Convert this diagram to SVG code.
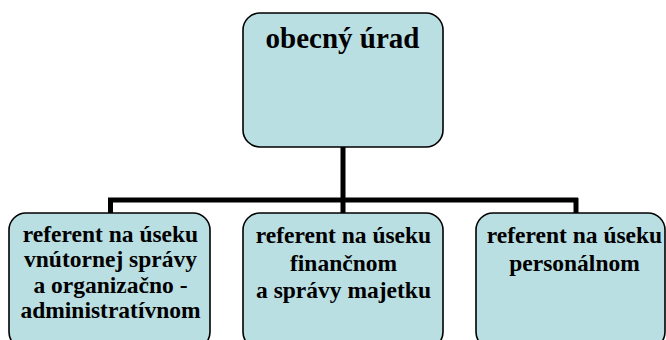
<svg xmlns="http://www.w3.org/2000/svg" width="666" height="340" viewBox="0 0 666 340">
<style>
.box{fill:#badfe3;stroke:#000;stroke-width:1.6}
text{font-family:'Liberation Serif','DejaVu Serif',serif;font-weight:bold;fill:#000;text-anchor:middle}
.s{font-size:23.5px}
.big{font-size:29px}
.c{stroke:#000;stroke-width:5;fill:none}
</style>
<rect width="666" height="340" fill="#fff"/>
<g id="connectors">
<path class="c" d="M343 147 V213"/>
<path class="c" d="M108 200 H578"/>
<path class="c" d="M110.5 198 V213"/>
<path class="c" d="M576 198 V213"/>
</g>
<g id="obecny-urad">
<rect class="box" x="243" y="13" width="200" height="134" rx="17"/>
<text class="big" x="342.5" y="48" font-family="Liberation Serif">obecný úrad</text>
</g>
<g id="referent-vnutornej">
<rect class="box" x="9" y="213" width="201" height="136" rx="17"/>
<text class="s" x="110.5" y="241.7">referent na úseku</text>
<text class="s" x="110.5" y="267.2">vnútornej správy</text>
<text class="s" x="110.5" y="292.7">a organizačno -</text>
<text class="s" x="110.5" y="318">administratívnom</text>
</g>
<g id="referent-financnom">
<rect class="box" x="243" y="213" width="200" height="136" rx="17"/>
<text class="s" x="343.5" y="243.3">referent na úseku</text>
<text class="s" x="343.5" y="270.8">finančnom</text>
<text class="s" x="343.5" y="298.3">a správy majetku</text>
</g>
<g id="referent-personalnom">
<rect class="box" x="476" y="213" width="189" height="136" rx="17"/>
<text class="s" x="574.5" y="243.3">referent na úseku</text>
<text class="s" x="574.5" y="270.8">personálnom</text>
</g>
</svg>
